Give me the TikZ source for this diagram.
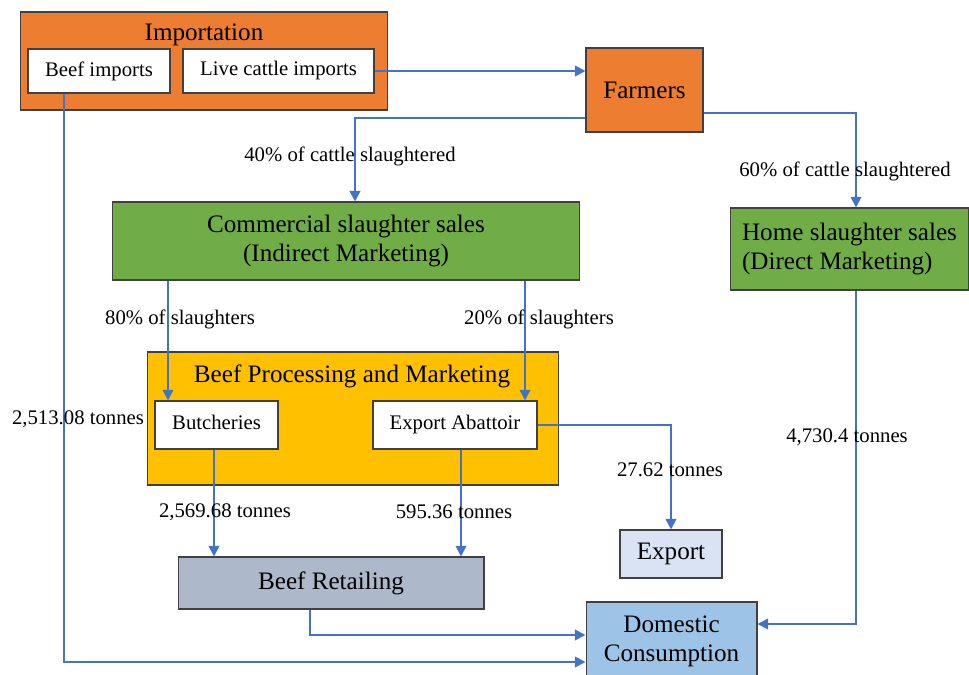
\documentclass[tikz,border=0pt]{standalone}
\usepackage{fontspec}
\setmainfont{Liberation Serif}
\usepackage{xcolor}
\definecolor{impOrange}{HTML}{ED7D31}
\definecolor{slGreen}{HTML}{70AD47}
\definecolor{procGold}{HTML}{FFC000}
\definecolor{retGrey}{HTML}{ADB9CA}
\definecolor{expBlue}{HTML}{DAE3F3}
\definecolor{domBlue}{HTML}{9DC3E6}
\definecolor{flowBlue}{HTML}{4472C4}
\usepackage{tikz}
\usetikzlibrary{calc,arrows.meta}

\begin{document}
\begin{tikzpicture}[x=0.02cm, y=-0.02cm,
  box/.style={draw=black!75, line width=0.6pt, inner sep=0pt, align=center},
  big/.style={font=\fontsize{14.3}{16.4}\selectfont},
  small/.style={font=\fontsize{11.8}{13}\selectfont},
  flow/.style={draw=flowBlue, line width=1.1pt, -{Triangle[width=6pt,length=6pt]}},
  lbl/.style={font=\fontsize{11.8}{13}\selectfont, inner sep=0pt}]
  \useasboundingbox (0,0) rectangle (969,675);
  \clip (0,0) rectangle (969,675);
  % importation block
  \node[box, fill=impOrange, minimum width=7.36cm, minimum height=1.96cm] (imp) at (204,61) {};
  \node[big] (imptitle) at (204,35) {Importation};
  \node[box, small, fill=white, minimum width=2.84cm, minimum height=0.88cm] (beefimp) at (99,71) {Beef imports};
  \node[box, small, fill=white, minimum width=3.82cm, minimum height=0.88cm] (liveimp) at (278.5,71) {Live cattle imports};
  \node[box, big, fill=impOrange, minimum width=2.34cm, minimum height=1.68cm] (farmers) at (644.5,90) {Farmers};
  % slaughter sales
  \node[box, big, fill=slGreen, minimum width=9.36cm, minimum height=1.56cm] (comm) at (346,241)
    {Commercial slaughter sales\\(Indirect Marketing)};
  \node[box, big, fill=slGreen, minimum width=4.78cm, minimum height=1.64cm, align=left] (home) at (849.5,249)
    {Home slaughter sales\\(Direct Marketing)};
  % processing block
  \node[box, fill=procGold, minimum width=8.24cm, minimum height=2.66cm] (proc) at (353,418.5) {};
  \node[big] (proctitle) at (352,376) {Beef Processing and Marketing};
  \node[box, small, fill=white, minimum width=2.46cm, minimum height=0.96cm] (butch) at (216.5,425) {\raisebox{3pt}{Butcheries}};
  \node[box, small, fill=white, minimum width=3.28cm, minimum height=0.96cm] (abat) at (455,425) {Export Abattoir};
  % outlets
  \node[box, big, fill=retGrey, minimum width=6.12cm, minimum height=1.04cm] (retail) at (331,583) {Beef Retailing};
  \node[box, big, fill=expBlue, minimum width=2.04cm, minimum height=0.96cm] (export) at (671,554) {Export};
  \node[box, big, fill=domBlue, minimum width=3.42cm, minimum height=1.56cm] (dom) at (671.5,641)
    {Domestic\\Consumption};
  % flows
  \draw[flow] (liveimp.east) -- (liveimp.east -| farmers.west);
  \draw[flow] (farmers.west |- 0,118) -| ($(comm.north)+(9,0)$);
  \draw[flow] (farmers.east |- 0,113) -| ($(home.north)+(6.5,0)$);
  \draw[flow] (comm.south -| 168,0) -- (butch.north -| 168,0);
  \draw[flow] (comm.south -| 525,0) -- (abat.north -| 525,0);
  \draw[flow] (butch.south -| 214,0) -- (retail.north -| 214,0);
  \draw[flow] (abat.south -| 461,0) -- (retail.north -| 461,0);
  \draw[flow] (abat.east) -| (export.north);
  \draw[flow] (beefimp.south -| 64,0) |- (dom.west |- 0,662);
  \draw[flow] (retail.south -| 310,0) |- (dom.west |- 0,635);
  \draw[flow] (home.south -| 856,0) |- (dom.east |- 0,624);
  % flow labels
  \node[lbl] (l40) at (350,156) {40\% of cattle slaughtered};
  \node[lbl] (l60) at (845,171) {60\% of cattle slaughtered};
  \node[lbl] (l80) at (180,319) {80\% of slaughters};
  \node[lbl] (l20) at (539,319) {20\% of slaughters};
  \node[lbl] (lbeef) at (78,419) {2,513.08 tonnes};
  \node[lbl] (lbutch) at (225,512) {2,569.68 tonnes};
  \node[lbl] (labat) at (454,512) {595.36 tonnes};
  \node[lbl] (lexp) at (670,470) {27.62 tonnes};
  \node[lbl] (lhome) at (847,437) {4,730.4 tonnes};
\end{tikzpicture}
\end{document}
